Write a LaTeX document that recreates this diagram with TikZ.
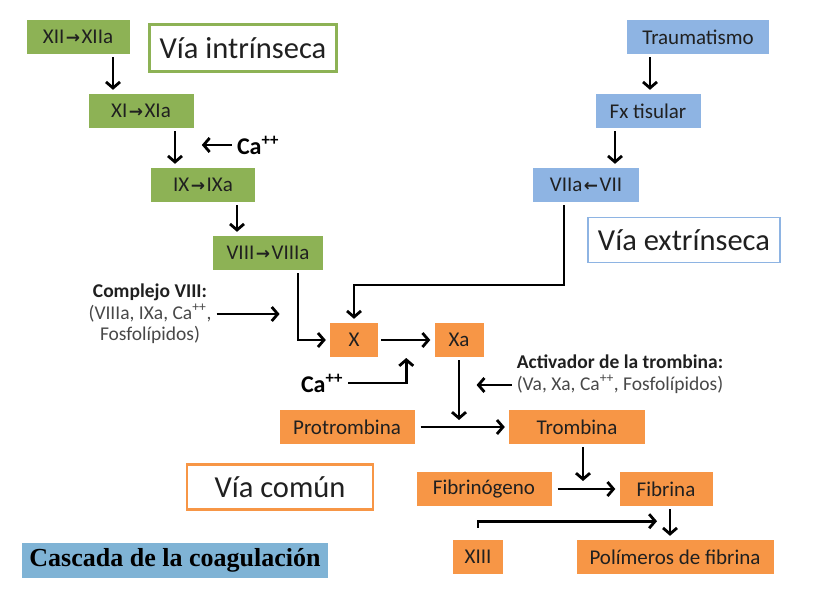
\documentclass[tikz,border=0pt]{standalone}
\usepackage{fontspec}
\setmainfont{Carlito}
\newfontfamily\arrowfont{DejaVu Sans}
\newfontfamily\titlefont{Liberation Serif}
\usepackage{tikz}
\usetikzlibrary{positioning, arrows.meta, calc}

\definecolor{pathgreen}{HTML}{8DB255}
\definecolor{pathblue}{HTML}{8EB4E3}
\definecolor{pathorange}{HTML}{F79646}
\definecolor{titleblue}{HTML}{7FB3D5}
\definecolor{boxtext}{HTML}{202020}
\definecolor{notegray}{HTML}{484848}

\newcommand{\fwd}{\kern1.5pt{\arrowfont\bfseries\fontsize{17}{19}\selectfont →}\kern1.5pt}
\newcommand{\bwd}{\kern1.5pt{\arrowfont\bfseries\fontsize{17}{19}\selectfont ←}\kern1.5pt}

\begin{document}
\begin{tikzpicture}[x=1pt, y=-1pt]

  % Styles
  \tikzset{
    factor/.style={
      rectangle, minimum height=34pt, inner sep=2pt,
      font=\fontsize{21}{23}\selectfont, text=boxtext
    },
    intr/.style={factor, fill=pathgreen},
    extr/.style={factor, fill=pathblue},
    comun/.style={factor, fill=pathorange},
    pathlabel/.style={
      rectangle, draw, line width=2.5pt, fill=white, inner sep=2pt,
      font=\fontsize{30.5}{32}\selectfont, text=boxtext
    },
    cation/.style={inner sep=2pt, font=\bfseries\fontsize{24}{26}\selectfont},
    note/.style={align=center, inner sep=2pt, text=notegray,
      font=\fontsize{19.5}{21.5}\selectfont},
    title/.style={rectangle, fill=titleblue, inner sep=2pt,
      font=\titlefont\bfseries\fontsize{26}{28}\selectfont},
    arrow/.style={line width=2.8pt, -{Straight Barb[length=6pt,width=14pt]},
      shorten <=3pt, shorten >=4pt}
  }

  \useasboundingbox (0,0) rectangle (820,602);

  % Intrinsic pathway
  \node[intr, minimum width=103pt] (xii) at (78,37) {XII\fwd XIIa};
  \node[pathlabel, draw=pathgreen, minimum width=187pt, minimum height=47pt] (intrlabel) at (243,48) {Vía intrínseca};
  \node[intr, minimum width=105pt] (xi) at (141,111) {XI\fwd XIa};
  \node[cation] (ca1) at (258,145) {Ca\textsuperscript{++}};
  \node[intr, minimum width=104pt] (ix) at (203,185) {IX\fwd IXa};
  \node[intr, minimum width=110pt] (viii) at (268,253) {VIII\fwd VIIIa};
  \node[note] (cplx) at (150,314) {{\color{boxtext}\textbf{Complejo VIII:}}\\(VIIIa, IXa, Ca\textsuperscript{++},\\Fosfolípidos)};

  % Extrinsic pathway
  \node[extr, minimum width=142pt] (trauma) at (698,37) {Traumatismo};
  \node[extr, minimum width=105pt] (fx) at (648,111) {Fx tisular};
  \node[extr, minimum width=106pt] (viia) at (586,185) {VIIa\bwd VII};
  \node[pathlabel, draw=pathblue, line width=1.8pt, minimum width=192pt, minimum height=45pt] (extrlabel) at (684,240) {Vía extrínseca};
  \coordinate (extbend) at (564,285);

  % Common pathway
  \node[comun, minimum width=48pt] (x) at (354,340) {X};
  \node[comun, minimum width=49pt] (xa) at (459,340) {Xa};
  \node[cation] (ca2) at (322,383) {Ca\textsuperscript{++}};
  \node[note] (act) at (620,374) {{\color{boxtext}\textbf{Activador de la trombina:}}\\(Va, Xa, Ca\textsuperscript{++}, Fosfolípidos)};
  \node[comun, minimum width=135pt] (protro) at (347,427) {Protrombina};
  \node[comun, minimum width=136pt] (trom) at (577,427) {Trombina};
  \node[comun, minimum width=135pt] (fib) at (484,489) {Fibrinógeno};
  \node[comun, minimum width=93pt] (fibrina) at (666,489) {Fibrina};
  \node[comun, minimum width=50pt] (xiii) at (478,557) {XIII};
  \node[comun, minimum width=197pt] (poly) at (675,557) {Polímeros de fibrina};
  \node[pathlabel, draw=pathorange, minimum width=186pt, minimum height=45pt] (comlabel) at (280,487) {Vía común};
  \node[title, minimum width=306pt, minimum height=35pt] (caption) at (175,560) {Cascada de la coagulación};

  % Arrows
  \draw[arrow] ([xshift=35pt]xii.south) -- ([xshift=35pt]xii.south |- xi.north);
  \draw[arrow] ([xshift=34pt]xi.south) -- ([xshift=34pt]xi.south |- ix.north);
  \draw[arrow] (ca1.west) -- ++(-37,0);
  \draw[arrow] ([xshift=34pt]ix.south) -- ([xshift=34pt]ix.south |- viii.north);
  \draw[arrow] ([xshift=30pt]viii.south) |- (x.west);
  \draw[arrow] (cplx.east) -- ++(70,0);

  \draw[arrow] ([xshift=-48pt]trauma.south) -- ([xshift=-48pt]trauma.south |- fx.north);
  \draw[arrow] ([xshift=-33pt]fx.south) -- ([xshift=-33pt]fx.south |- viia.north);
  \draw[arrow] (viia.south -| extbend) -- (extbend) -| (x.north);

  \draw[arrow] (x) -- (xa);
  \draw[arrow, shorten >=18pt] (ca2.east) -| ($(x.east)!.5!(xa.west)$);
  \draw[arrow, shorten >=7pt] (xa.south) -- (xa.south |- protro.east);
  \draw[arrow] ([yshift=-11pt]act.west) -- ++(-42,0);
  \draw[arrow, shorten <=6pt] (protro) -- (trom);
  \draw[arrow, shorten >=8pt] ([xshift=6pt]trom.south) -- ([xshift=6pt]trom.south |- fibrina.west);
  \draw[arrow, shorten <=6pt] (fib) -- (fibrina);
  \draw[arrow] ([xshift=4pt]fibrina.south) -- ([xshift=4pt]fibrina.south |- poly.north);
  \draw[arrow, shorten <=12pt] (xiii.north) |- ([xshift=-5pt,yshift=-15pt]fibrina.south);

\end{tikzpicture}
\end{document}
